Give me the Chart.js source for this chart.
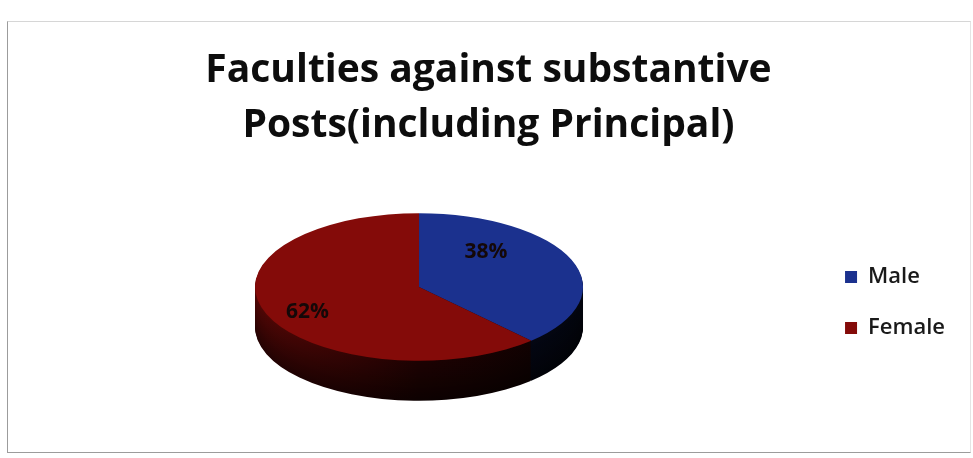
<!DOCTYPE html>
<html>
<head>
<meta charset="utf-8">
<script src="https://cdn.jsdelivr.net/npm/chart.js@4.4.1/dist/chart.umd.min.js"></script>
<style>
  html, body { margin: 0; padding: 0; background: #fff; }
  #frame { position: absolute; left: 7px; top: 21px; width: 962px; height: 430px; border: 1px solid #9c9c9c; border-top-color: #d6d6d6; border-right-color: #e4e4e4; }
  #chart { position: absolute; left: 0; top: 0; }
</style>
</head>
<body>
<div id="frame"></div>
<canvas id="chart" width="973" height="458"></canvas>
<script>
const titleLines = ["Faculties against substantive", "Posts(including Principal)"];
const categories = ["Male", "Female"];
const shares = [38, 62];

const sliceColors = ["#1b318e", "#840b09"];
const tilt = 0.45;
const depth = 40;
// where each % label sits: angle shift (deg) and fraction of radius
const labelSpots = [{ shift: -28, r: 0.63 }, { shift: -5, r: 0.76 }];

function shade(hex, k) {
  const n = parseInt(hex.slice(1), 16);
  const r = Math.round(((n >> 16) & 255) * k), g = Math.round(((n >> 8) & 255) * k), b = Math.round((n & 255) * k);
  return `rgb(${r},${g},${b})`;
}

function squash(ctx, cx, cy, dy) {
  ctx.translate(cx, cy + dy);
  ctx.scale(1, tilt);
  ctx.translate(-cx, -cy);
}

const tilt3d = {
  id: "tilt3d",
  beforeDatasetsDraw(chart) {
    const ctx = chart.ctx;
    const arcs = chart.getDatasetMeta(0).data;
    const cx = arcs[0].x, cy = arcs[0].y, r = arcs[0].outerRadius;
    // side wall, lowest layer first
    for (let d = depth; d > 0; d--) {
      const vk = 1 - 0.55 * (d / depth);
      arcs.forEach((arc, i) => {
        const grad = ctx.createLinearGradient(cx - r, 0, cx + r, 0);
        grad.addColorStop(0, shade(sliceColors[i], 0.62 * vk));
        grad.addColorStop(0.5, shade(sliceColors[i], 0.22 * vk));
        grad.addColorStop(1, shade(sliceColors[i], 0.1 * vk));
        const ghost = Object.create(arc);
        ghost.options = Object.assign({}, arc.options, { backgroundColor: grad });
        ctx.save();
        squash(ctx, cx, cy, d);
        ghost.draw(ctx);
        ctx.restore();
      });
    }
    ctx.save();
    squash(ctx, cx, cy, 0);
  },
  afterDatasetsDraw(chart) {
    const ctx = chart.ctx;
    ctx.restore();
    const arcs = chart.getDatasetMeta(0).data;
    ctx.save();
    ctx.font = "bold 21px 'Open Sans'";
    ctx.fillStyle = "#140808";
    ctx.textAlign = "center";
    ctx.textBaseline = "middle";
    arcs.forEach((arc, i) => {
      const spot = labelSpots[i];
      const mid = (arc.startAngle + arc.endAngle) / 2 + spot.shift * Math.PI / 180;
      const rr = arc.outerRadius * spot.r;
      ctx.fillText(shares[i] + "%", arc.x + Math.cos(mid) * rr, arc.y + Math.sin(mid) * rr * tilt);
    });
    ctx.restore();
  },
};

Chart.defaults.font.family = "'Open Sans'";

new Chart(document.getElementById("chart"), {
  type: "pie",
  data: {
    labels: categories,
    datasets: [{ data: shares, backgroundColor: sliceColors, borderWidth: 0, radius: 164, clip: false }],
  },
  options: {
    responsive: false,
    animation: false,
    layout: { padding: { left: 22, right: 18, top: 0, bottom: 43.5 } },
    plugins: {
      title: {
        display: true,
        text: titleLines,
        color: "#0d0d0d",
        font: { family: "'Open Sans'", size: 39, weight: "bold", lineHeight: 1.41 },
        padding: { top: 43.5, bottom: 6 },
      },
      legend: {
        position: "right",
        fullSize: false,
        title: { display: true, text: " ", font: { size: 12 }, padding: { top: 0, bottom: 16.6 } },
        labels: { color: "#1a1a1a", font: { family: "'Open Sans'", size: 22, weight: "600" }, boxWidth: 12, boxHeight: 12, padding: 29 },
      },
      tooltip: { enabled: false },
    },
  },
  plugins: [tilt3d],
});
</script>
</body>
</html>
